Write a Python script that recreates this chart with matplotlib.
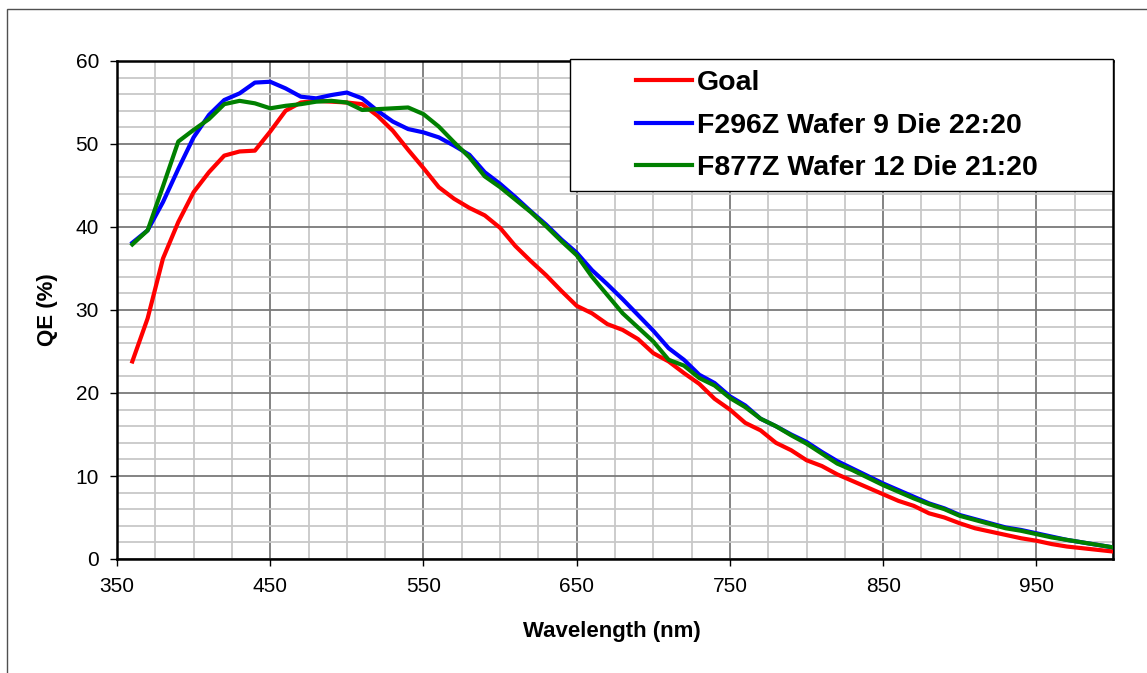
import matplotlib
matplotlib.use("Agg")
import matplotlib.pyplot as plt
from matplotlib.patches import Rectangle
from matplotlib.ticker import MultipleLocator, FixedLocator

# wavelength points (nm), one every 10 nm
wavelength = list(range(360, 1001, 10))

# QE (%) of the goal curve
goal = [23.8, 29.0, 36.2, 40.6, 44.2, 46.6, 48.6, 49.1, 49.2, 51.5,
        54.0, 55.0, 55.2, 55.1, 55.0, 54.8, 53.4, 51.6, 49.3, 47.1,
        44.8, 43.4, 42.3, 41.4, 39.9, 37.7, 35.9, 34.2, 32.3, 30.5,
        29.6, 28.3, 27.6, 26.5, 24.8, 23.8, 22.4, 21.1, 19.3, 18.0,
        16.4, 15.5, 14.0, 13.1, 11.9, 11.2, 10.2, 9.4, 8.6, 7.8,
        7.0, 6.4, 5.5, 5.0, 4.3, 3.7, 3.3, 2.9, 2.5, 2.2,
        1.8, 1.5, 1.3, 1.1, 0.9]

# QE (%) of F296Z Wafer 9 Die 22:20
f296z = [38.1, 39.6, 43.0, 47.0, 50.8, 53.5, 55.3, 56.1, 57.4, 57.5,
         56.7, 55.7, 55.5, 55.9, 56.2, 55.5, 54.0, 52.7, 51.8, 51.4,
         50.8, 49.8, 48.7, 46.6, 45.2, 43.6, 41.9, 40.3, 38.5, 36.9,
         34.8, 33.1, 31.3, 29.4, 27.5, 25.4, 24.0, 22.2, 21.2, 19.6,
         18.5, 16.9, 16.0, 15.0, 14.1, 12.9, 11.8, 10.9, 10.0, 9.1,
         8.3, 7.5, 6.7, 6.1, 5.3, 4.8, 4.3, 3.8, 3.5, 3.1,
         2.7, 2.3, 2.0, 1.7, 1.4]

# QE (%) of F877Z Wafer 12 Die 21:20
f877z = [37.9, 39.6, 44.9, 50.3, 51.7, 53.0, 54.8, 55.2, 54.9, 54.3,
         54.6, 54.8, 55.1, 55.2, 55.0, 54.1, 54.2, 54.3, 54.4, 53.6,
         52.1, 50.2, 48.4, 46.1, 44.8, 43.3, 41.8, 40.1, 38.3, 36.6,
         34.0, 31.8, 29.6, 27.9, 26.2, 24.0, 23.3, 21.8, 20.9, 19.4,
         18.3, 16.9, 16.0, 14.9, 13.9, 12.7, 11.5, 10.7, 9.8, 8.9,
         8.1, 7.3, 6.6, 6.0, 5.2, 4.7, 4.2, 3.7, 3.4, 3.0,
         2.6, 2.3, 2.0, 1.7, 1.4]

labels = ["Goal", "F296Z Wafer 9 Die 22:20", "F877Z Wafer 12 Die 21:20"]
colors = ["#ff0000", "#0000ff", "#008000"]
x_ticks = list(range(350, 951, 100))

plt.rcParams['font.family'] = ['Liberation Sans', 'DejaVu Sans']

W, H = 1147, 673
fig = plt.figure(figsize=(W / 100, H / 100), dpi=100)

# outer chart frame (only top and left edge are inside the picture)
fig.add_artist(Rectangle((7 / W, -0.1), 1.2, 1.1 - 9 / H, transform=fig.transFigure,
                         fill=False, edgecolor='#505050', linewidth=1))

# plot area in pixels: left 117, right 1113, top 61, bottom 559
ax = fig.add_axes([117 / W, (H - 559) / H, (1113 - 117) / W, (559 - 61) / H])

for series, label, color in zip([goal, f296z, f877z], labels, colors):
    ax.plot(wavelength, series, color=color, linewidth=3, label=label,
            solid_joinstyle='round', zorder=3)

ax.set_xlim(350, 1000)
ax.set_ylim(0, 60)
ax.xaxis.set_major_locator(FixedLocator(x_ticks))
ax.xaxis.set_minor_locator(MultipleLocator(25))
ax.yaxis.set_major_locator(MultipleLocator(10))
ax.yaxis.set_minor_locator(MultipleLocator(2))

# grid: dark major lines, light minor lines
ax.grid(which='major', color='#7a7a7a', linewidth=1.3)
ax.grid(which='minor', color='#c8c8c8', linewidth=1.3)
ax.set_axisbelow(True)

for side in ax.spines.values():
    side.set_linewidth(1.8)
    side.set_color('black')

ax.tick_params(which='major', direction='out', length=5, width=1, labelsize=15, pad=8)
ax.tick_params(which='minor', length=0)

ax.set_xlabel("Wavelength (nm)", fontsize=16, fontweight='bold')
ax.set_ylabel("QE (%)", fontsize=16, fontweight='bold')
ax.xaxis.set_label_coords((612 - 117) / 996, (559 - 631) / 498)
ax.xaxis.label.set_verticalalignment('center')
ax.yaxis.set_label_coords((47 - 117) / 996, 0.5)
ax.yaxis.label.set_verticalalignment('center')

# legend box drawn by hand, legend entries without their own frame
ax.add_patch(Rectangle((570 / W, (H - 191) / H), 543 / W, 132 / H, transform=fig.transFigure,
                       facecolor='white', edgecolor='black', linewidth=1, clip_on=False, zorder=5))
leg = ax.legend(loc='upper left', bbox_to_anchor=(636 / W, 1 - 70 / H),
                bbox_transform=fig.transFigure, frameon=False, borderpad=0, borderaxespad=0,
                handlelength=1.96, handletextpad=0.18, labelspacing=0.58,
                prop={'size': 20.5, 'weight': 'bold'})
leg.set_zorder(6)

fig.savefig("out.png", dpi=100)
